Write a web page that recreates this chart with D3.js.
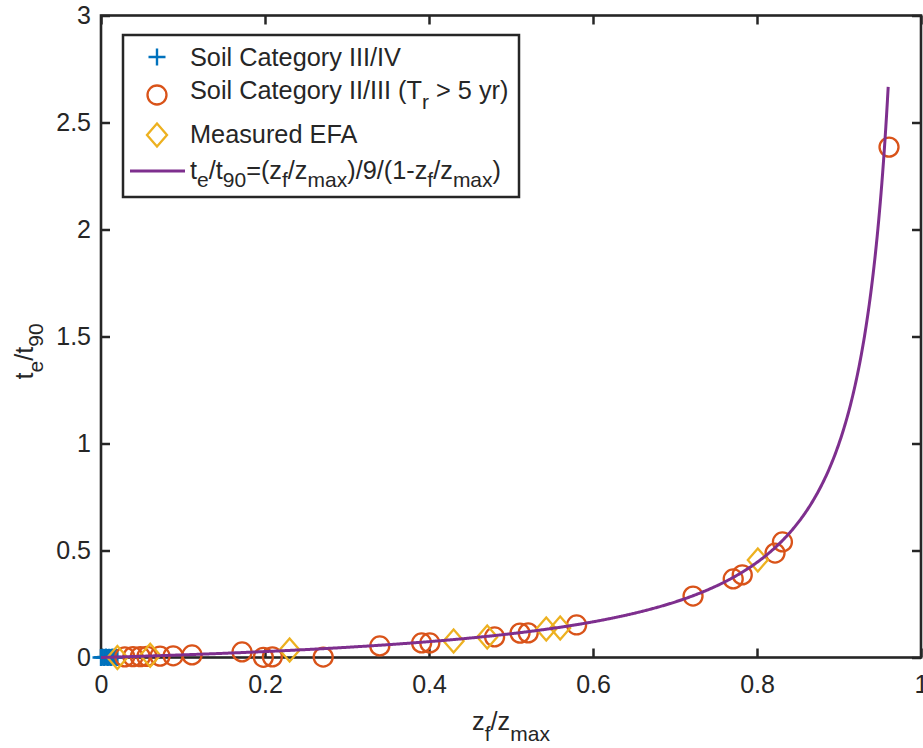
<!DOCTYPE html>
<html>
<head>
<meta charset="utf-8">
<script src="https://cdn.jsdelivr.net/npm/d3@7"></script>
<style>
  html, body { margin: 0; padding: 0; background: #fff; }
  svg { display: block; }
  text { font-family: "Liberation Sans", Arial, Helvetica, sans-serif; fill: #262626; }
</style>
</head>
<body>
<svg id="chart" width="923" height="748"></svg>
<script>
// ---------------- data ----------------
const plusX = [0, 0.002, 0.004, 0.006, 0.008, 0.010, 0.012, 0.014, 0.016, 0.018, 0.020];
const plusY = [0, 0.001, 0, 0.002, 0, 0.001, 0, 0.002, 0, 0.001, 0];

const circleX = [0.029, 0.039, 0.048, 0.056, 0.072, 0.088, 0.111, 0.172, 0.198, 0.209, 0.271,
                 0.340, 0.391, 0.401, 0.480, 0.511, 0.521, 0.580, 0.722, 0.771, 0.782, 0.822, 0.831, 0.961];
const circleY = [0.003, 0.004, 0.004, 0.005, 0.006, 0.008, 0.012, 0.026, 0.001, 0.003, 0.002,
                 0.054, 0.068, 0.068, 0.096, 0.114, 0.115, 0.152, 0.287, 0.367, 0.386, 0.488, 0.540, 2.385];

const diamondX = [0.020, 0.060, 0.230, 0.430, 0.471, 0.543, 0.560, 0.801];
const diamondY = [0.000, 0.010, 0.035, 0.077, 0.096, 0.133, 0.138, 0.456];

// fitted relation from the legend: te/t90 = (zf/zmax)/9/(1-zf/zmax), drawn for zf/zmax in [0, 0.96]
const curveXMax = 0.96;
const fit = r => r / 9 / (1 - r);

const xTicks = [0, 0.2, 0.4, 0.6, 0.8, 1];
const xTickLabels = ["0", "0.2", "0.4", "0.6", "0.8", "1"];
const yTicks = [0, 0.5, 1, 1.5, 2, 2.5, 3];
const yTickLabels = ["0", "0.5", "1", "1.5", "2", "2.5", "3"];

const legendLabels = ["Soil Category III/IV", "Soil Category II/III", "Measured EFA", "fit"];

// ---------------- layout ----------------
const COL_PLUS = "#0072BD", COL_CIRC = "#D95319", COL_DIAM = "#EDB120", COL_LINE = "#7E2F8E";
const AX = "#262626";
const FS = 25.3, FT = 25, FSUB = 21;

const svg = d3.select("#chart");
const L = 101, R = 921, T = 15.5, B = 657.5;
const x = d3.scaleLinear().domain([0, 1]).range([L, R]);
const y = d3.scaleLinear().domain([0, 3]).range([B, T]);

// axes (ticks inward)
const gB = svg.append("g").attr("transform", `translate(0,${B})`)
  .call(d3.axisBottom(x).tickValues(xTicks).tickFormat((d, i) => xTickLabels[i])
        .tickSizeInner(-9).tickSizeOuter(0).tickPadding(18));
const gT = svg.append("g").attr("transform", `translate(0,${T})`)
  .call(d3.axisTop(x).tickValues(xTicks).tickFormat("").tickSizeInner(-9).tickSizeOuter(0));
const gL = svg.append("g").attr("transform", `translate(${L},0)`)
  .call(d3.axisLeft(y).tickValues(yTicks).tickFormat((d, i) => yTickLabels[i])
        .tickSizeInner(-9).tickSizeOuter(0).tickPadding(10));
const gR = svg.append("g").attr("transform", `translate(${R},0)`)
  .call(d3.axisRight(y).tickValues(yTicks).tickFormat("").tickSizeInner(-9).tickSizeOuter(0));
[gB, gT, gL, gR].forEach(g => {
  g.select(".domain").remove();
  g.selectAll(".tick line").attr("stroke", AX).attr("stroke-width", 2.5);
  g.selectAll("text").attr("font-size", FT).attr("fill", AX)
    .attr("font-family", '"Liberation Sans", Arial, sans-serif');
});

// frame
svg.append("rect").attr("x", L).attr("y", T).attr("width", R - L).attr("height", B - T)
  .attr("fill", "none").attr("stroke", AX).attr("stroke-width", 2.6);

// markers
const plusPath = s => `M${-s},0H${s}M0,${-s}V${s}`;
const diamPath = (w, h) => `M0,${-h}L${w},0L0,${h}L${-w},0Z`;

svg.append("g").selectAll("path").data(plusX.map((d, i) => [d, plusY[i]])).join("path")
  .attr("transform", d => `translate(${x(d[0])},${y(d[1])})`)
  .attr("d", plusPath(8.5)).attr("stroke", COL_PLUS).attr("stroke-width", 2.4).attr("fill", "none");

svg.append("g").selectAll("circle").data(circleX.map((d, i) => [d, circleY[i]])).join("circle")
  .attr("cx", d => x(d[0])).attr("cy", d => y(d[1])).attr("r", 9.5)
  .attr("fill", "none").attr("stroke", COL_CIRC).attr("stroke-width", 2.3);

svg.append("g").selectAll("path").data(diamondX.map((d, i) => [d, diamondY[i]])).join("path")
  .attr("transform", d => `translate(${x(d[0])},${y(d[1])})`)
  .attr("d", diamPath(10, 11.5)).attr("fill", "none").attr("stroke", COL_DIAM).attr("stroke-width", 2.3);

// fitted curve
const curvePts = d3.range(0, 1001).map(i => (i / 1000) * curveXMax).map(r => [r, fit(r)]);
svg.append("path").datum(curvePts)
  .attr("d", d3.line().x(d => x(d[0])).y(d => y(d[1])))
  .attr("fill", "none").attr("stroke", COL_LINE).attr("stroke-width", 3);

// text helper with subscripts: parts = [[text, isSub], ...]
function richText(sel, parts, sub = 9) {
  let prev = false;
  parts.forEach(([t, isSub]) => {
    const ts = sel.append("tspan").text(t);
    if (isSub) ts.attr("font-size", FSUB);
    if (isSub && !prev) ts.attr("dy", sub);
    if (!isSub && prev) ts.attr("dy", -sub);
    prev = isSub;
  });
  return sel;
}

// axis labels
richText(svg.append("text").attr("x", (L + R) / 2).attr("y", 730).attr("text-anchor", "middle")
  .attr("font-size", FS), [["z", false], ["f", true], ["/z", false], ["max", true]], 11);
richText(svg.append("text").attr("transform", `translate(33,${(T + B) / 2 + 15}) rotate(-90)`)
  .attr("text-anchor", "middle").attr("font-size", FS), [["t", false], ["e", true], ["/t", false], ["90", true]], 10);

// legend
const lg = svg.append("g");
lg.append("rect").attr("x", 123).attr("y", 35).attr("width", 396).attr("height", 162)
  .attr("fill", "#fff").attr("stroke", AX).attr("stroke-width", 2.5);
const mx = 157, tx = 190;
lg.append("path").attr("transform", `translate(${mx},57)`).attr("d", plusPath(8.5))
  .attr("stroke", COL_PLUS).attr("stroke-width", 2.4);
lg.append("circle").attr("cx", mx).attr("cy", 95).attr("r", 9.5)
  .attr("fill", "none").attr("stroke", COL_CIRC).attr("stroke-width", 2.3);
lg.append("path").attr("transform", `translate(${mx},135)`).attr("d", diamPath(10, 11.5))
  .attr("fill", "none").attr("stroke", COL_DIAM).attr("stroke-width", 2.3);
lg.append("line").attr("x1", 130).attr("x2", 185).attr("y1", 171).attr("y2", 171)
  .attr("stroke", COL_LINE).attr("stroke-width", 3);

lg.append("text").attr("x", tx).attr("y", 66).attr("font-size", FS).text(legendLabels[0]);
richText(lg.append("text").attr("x", tx).attr("y", 99).attr("font-size", FS),
  [[legendLabels[1] + " (T", false], ["r", true], [" > 5 yr)", false]], 10);
lg.append("text").attr("x", tx).attr("y", 143).attr("font-size", FS).text(legendLabels[2]);
richText(lg.append("text").attr("x", tx).attr("y", 179).attr("font-size", FS),
  [["t", false], ["e", true], ["/t", false], ["90", true], ["=(z", false], ["f", true], ["/z", false], ["max", true],
   [")/9/(1-z", false], ["f", true], ["/z", false], ["max", true], [")", false]], 8);
</script>
</body>
</html>
